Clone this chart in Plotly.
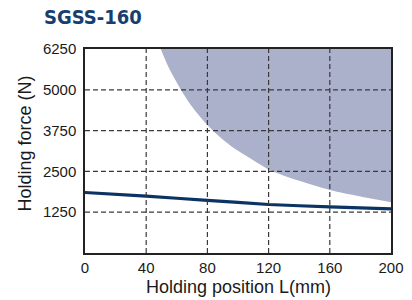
import plotly.graph_objects as go

# Data
position_mm = [0, 40, 80, 120, 160, 200]
holding_force_N = [1854, 1740, 1615, 1486, 1412, 1350]

# Boundary of the shaded (not allowed) region
boundary_L = [49.5, 55, 63, 70, 80, 90, 100, 110, 120, 140, 160, 180, 200]
boundary_F = [6250, 5650, 4980, 4480, 3920, 3480, 3130, 2840, 2560, 2210, 1930, 1730, 1555]

x_ticks = [0, 40, 80, 120, 160, 200]
y_ticks = [1250, 2500, 3750, 5000, 6250]
x_range = [0, 200]
y_range = [0, 6250]

title_text = "SGSS-160"
x_title = "Holding position L(mm)"
y_title = "Holding force (N)"

fig = go.Figure()

# boundary curve, then a top edge filled down to it
fig.add_trace(go.Scatter(
    x=boundary_L, y=boundary_F, mode="lines",
    line=dict(width=0, color="#abb1cb", shape="spline", smoothing=0.8),
    hoverinfo="skip", showlegend=False,
))
fig.add_trace(go.Scatter(
    x=boundary_L, y=[y_range[1]] * len(boundary_L), mode="lines",
    line=dict(width=0, color="#abb1cb"), fill="tonexty", fillcolor="#abb1cb",
    hoverinfo="skip", showlegend=False,
))

fig.add_trace(go.Scatter(
    x=position_mm, y=holding_force_N, mode="lines",
    line=dict(color="#0b3363", width=3.2, shape="spline", smoothing=0.5),
    showlegend=False,
))

grid_style = dict(color="#3a3a3a", width=1.2, dash="5px,3px")
for xv in x_ticks:
    if x_range[0] < xv < x_range[1]:
        fig.add_shape(type="line", xref="x", yref="y", x0=xv, x1=xv,
                      y0=y_range[0], y1=y_range[1], line=grid_style, layer="above")
for yv in y_ticks:
    if y_range[0] < yv < y_range[1]:
        fig.add_shape(type="line", xref="x", yref="y", x0=x_range[0], x1=x_range[1],
                      y0=yv, y1=yv, line=grid_style, layer="above")

label_family = "Liberation Sans, Arial, sans-serif"
axis_font = dict(family=label_family, size=15, color="#1a1a1a")
title_font = dict(family=label_family, size=18, color="#1a1a1a")
fig.update_xaxes(
    range=x_range, tickvals=x_ticks, ticks="", showgrid=False, zeroline=False,
    showline=True, linecolor="#222", linewidth=1.5, mirror=True,
    tickfont=axis_font, ticklabelstandoff=0, automargin=False,
    layer="above traces",
)
fig.update_yaxes(
    range=y_range, tickvals=y_ticks, ticks="", showgrid=False, zeroline=False,
    showline=True, linecolor="#222", linewidth=1.5, mirror=True,
    tickfont=axis_font, ticklabelstandoff=4, automargin=False,
    layer="above traces",
)

# axis titles as paper-positioned annotations
fig.add_annotation(text=x_title, xref="paper", yref="paper", x=0.5, y=-0.165,
                   xanchor="center", yanchor="middle", showarrow=False, font=title_font)
fig.add_annotation(text=y_title, xref="paper", yref="paper", x=-0.197, y=0.535,
                   xanchor="center", yanchor="middle", textangle=-90,
                   showarrow=False, font=title_font)

fig.update_layout(
    width=412, height=300,
    margin=dict(l=85, r=21, t=49, b=47),
    paper_bgcolor="white", plot_bgcolor="white",
    title=dict(text="<b>" + title_text + "</b>", x=44 / 412, xanchor="left",
               y=1 - 16.5 / 300, yanchor="middle", automargin=False,
               font=dict(family="DejaVu Sans Condensed, DejaVu Sans", size=20, color="#173e6e")),
)

fig.write_html("out.html", config={"displayModeBar": False},
               post_script="document.body.style.margin='0';document.body.style.overflow='hidden';")
